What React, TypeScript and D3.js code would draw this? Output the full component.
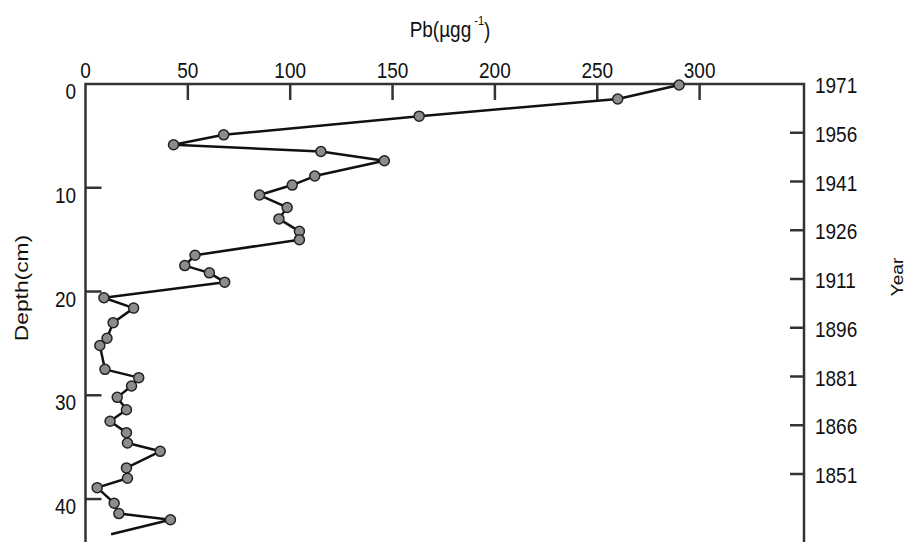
import React from "react";
import * as d3 from "d3";

// depth (cm) and Pb (ug/g), top to bottom
const depthCm = [
  0.1, 1.45, 3.1, 4.9, 5.85, 6.5, 7.4, 8.87, 9.74, 10.7, 11.9, 13.0, 14.2, 15.0,
  16.5, 17.5, 18.2, 19.1, 20.6, 21.6, 23.0, 24.5, 25.2, 27.5, 28.3, 29.1, 30.2,
  31.4, 32.5, 33.6, 34.6, 35.4, 37.0, 38.0, 38.9, 40.4, 41.4, 42.0, 43.4,
];
const pbValues = [
  290, 260, 163, 67.5, 43, 115, 146, 112, 101, 85, 98.5, 94.5, 104.5, 104.5,
  53.5, 48.5, 60.5, 68, 9, 23.5, 13.5, 10.5, 7, 9.5, 26, 22.5, 15.5,
  20, 12, 20, 20.5, 36.5, 20, 20.5, 5.7, 14, 16.3, 41.5, 12.5,
];

const pbTicks = [0, 50, 100, 150, 200, 250, 300];
const depthTicks = [0, 10, 20, 30, 40];
const yearTicks = [1971, 1956, 1941, 1926, 1911, 1896, 1881, 1866, 1851];

const W = 908;
const H = 542;
const left = 85.5;
const right = 804;
const top = 84;
const bottom = 542;
const stretch = 1.2; // the scanned figure is a bit taller than it is wide
const font = "'Liberation Sans', Arial, sans-serif";

export default function App() {
  const x = d3.scaleLinear().domain([0, 351]).range([left, right]);
  const y = d3.scaleLinear().domain([0, 44.14]).range([top, bottom]);
  const yYear = d3.scaleLinear().domain([1971, 1851]).range([top, 474]);

  const pts = depthCm.map((d, i) => [x(pbValues[i]), y(d)] as [number, number]);
  const line = d3.line();

  const axisColor = "#333";

  const label = (tx: number, ty: number, s: string, anchor = "middle", size = 19, rot = 0) => (
    <text
      transform={`translate(${tx},${ty}) scale(1,${stretch})${rot ? ` rotate(${rot})` : ""}`}
      textAnchor={anchor}
      dominantBaseline="central"
      fontSize={size}
      fontFamily={font}
      fill="#111"
    >
      {s}
    </text>
  );

  return (
    <svg
      width={W}
      height={H}
      style={{ position: "absolute", left: 0, top: 0, background: "#fff" }}
    >
      {/* frame */}
      <path
        d={`M${left},${bottom}V${top}H${right}V${bottom}`}
        fill="none"
        stroke={axisColor}
        strokeWidth={2.5}
      />

      {/* top Pb axis */}
      {pbTicks.map((t) => (
        <g key={"pb" + t}>
          {t > 0 && (
            <line x1={x(t)} x2={x(t)} y1={top} y2={top + 16} stroke={axisColor} strokeWidth={2.5} />
          )}
          {label(x(t), 70, String(t))}
        </g>
      ))}

      {/* left depth axis */}
      {depthTicks.map((t) => (
        <g key={"d" + t}>
          {t > 0 && (
            <line x1={left} x2={left + 16} y1={y(t)} y2={y(t)} stroke={axisColor} strokeWidth={2.5} />
          )}
          {label(76, y(t) + 7, String(t), "end")}
        </g>
      ))}

      {/* right year axis */}
      {yearTicks.map((t) => (
        <g key={"y" + t}>
          {t !== 1971 && (
            <line x1={right - 14} x2={right} y1={yYear(t)} y2={yYear(t)} stroke={axisColor} strokeWidth={2.5} />
          )}
          {label(815, yYear(t) + 1, String(t), "start")}
        </g>
      ))}

      {/* axis titles */}
      <text
        transform={`translate(450,29) scale(1,${stretch})`}
        textAnchor="middle"
        dominantBaseline="central"
        fontSize={19}
        fontFamily={font}
        fill="#111"
      >
        Pb(µgg
        <tspan fontSize={11} dy={-7}> -1</tspan>
        <tspan dy={7}>)</tspan>
      </text>
      {label(21, 288, "Depth(cm)", "middle", 19, -90)}
      {label(898, 277, "Year", "middle", 16, -90)}

      {/* profile */}
      <path d={line(pts) ?? ""} fill="none" stroke="#111" strokeWidth={2.5} strokeLinejoin="round" />
      {pts.slice(0, -1).map((p, i) => (
        <circle key={i} cx={p[0]} cy={p[1]} r={5} fill="#8c8c8c" stroke="#222" strokeWidth={1.5} />
      ))}
    </svg>
  );
}
